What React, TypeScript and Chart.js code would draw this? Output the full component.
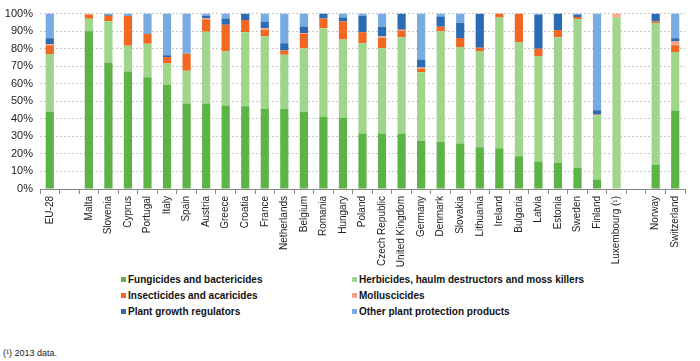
import React, { useEffect, useRef } from "react";
import { Chart, registerables } from "chart.js";

Chart.register(...registerables);

const categories = [
  "EU-28", "", "Malta", "Slovenia", "Cyprus", "Portugal", "Italy", "Spain", "Austria", "Greece",
  "Croatia", "France", "Netherlands", "Belgium", "Romania", "Hungary", "Poland", "Czech Republic",
  "United Kingdom", "Germany", "Denmark", "Slovakia", "Lithuania", "Ireland", "Bulgaria", "Latvia",
  "Estonia", "Sweden", "Finland", "Luxembourg (\u00b9)", " ", "Norway", "Switzerland",
];

const fungicides = [44, null, 90, 72, 67, 63.7, 59.4, 48.7, 48.7, 47.6, 47.2, 45.7, 45.7, 44, 41, 40.6, 31.6, 31.6, 31.6, 27.5, 27, 26, 23.8, 23.2, 18.7, 15.7, 14.8, 12, 5.4, 0, null, 14, 44.8];
const herbicides = [33, null, 7, 23.6, 14.7, 19.1, 12.1, 18.7, 41, 30.9, 42.1, 41.4, 30.9, 36.3, 50.6, 44.6, 51.5, 48.7, 54.9, 39, 62.9, 54.9, 54.9, 74.6, 65, 60.1, 71.7, 84.8, 36.7, 97.8, null, 80.6, 33.3];
const insecticides = [5, null, 2.4, 3.2, 17, 5.6, 3.8, 9.7, 7.1, 15.1, 7.1, 3.5, 2.4, 8.1, 5.6, 10.3, 6.2, 5.8, 3.8, 2.2, 2.6, 5.2, 1.8, 2.2, 16.3, 4.2, 4.1, 1.3, 0.4, 0, null, 0.9, 3.8];
const molluscicides = [0.5, null, 0.6, 0, 0, 0, 0, 0, 0.5, 0, 0, 1, 0, 0.5, 0, 0, 0, 1, 0.5, 0.5, 0, 0, 0, 0, 0, 0, 0, 0, 0, 2.2, null, 0, 2.2];
const growthRegulators = [3.5, null, 0, 0.7, 0, 0, 0.9, 0, 1.4, 3.6, 3.6, 3.7, 4.1, 3.8, 2.8, 2.3, 9.4, 5.4, 9.2, 4.6, 5.8, 8.5, 19.5, 0, 0, 19.3, 9.4, 1.2, 2.4, 0, null, 4.5, 1.9];
const otherProducts = [14, null, 0, 0.5, 1.3, 11.6, 23.8, 22.9, 1.3, 2.8, 0, 4.7, 16.9, 7.3, 0, 2.2, 1.3, 7.5, 0, 26.2, 1.7, 5.4, 0, 0, 0, 0.7, 0, 0.7, 55.1, 0, null, 0, 14];

const yTicks = [0, 10, 20, 30, 40, 50, 60, 70, 80, 90, 100];

const seriesNames = [
  "Fungicides and bactericides",
  "Herbicides, haulm destructors and moss killers",
  "Insecticides and acaricides",
  "Molluscicides",
  "Plant growth regulators",
  "Other plant protection products",
];
const seriesColors = ["#5cb346", "#a0d68c", "#f26722", "#f7a487", "#2b6bb3", "#77abe1"];
const seriesData = [fungicides, herbicides, insecticides, molluscicides, growthRegulators, otherProducts];

const FONT = "'Liberation Sans', Arial, sans-serif";
const CANVAS_H = 268;

export default function App() {
  const ref = useRef<HTMLCanvasElement | null>(null);

  useEffect(() => {
    if (!ref.current) return;
    const chart = new Chart(ref.current, {
      type: "bar",
      data: {
        labels: categories,
        datasets: seriesNames.map((name, i) => ({
          label: name,
          data: seriesData[i],
          backgroundColor: seriesColors[i],
          borderWidth: 0,
          categoryPercentage: 1,
          barPercentage: 0.42,
        })),
      },
      options: {
        animation: false,
        responsive: false,
        maintainAspectRatio: false,
        layout: { padding: { top: 11, right: 15, left: 0, bottom: 0 } },
        plugins: {
          legend: { display: false },
          tooltip: { enabled: false },
        },
        scales: {
          x: {
            stacked: true,
            offset: true,
            grid: {
              display: true,
              drawOnChartArea: false,
              offset: true,
              tickLength: 5,
              color: "#888888",
            },
            border: { display: true, color: "#888888" },
            ticks: {
              autoSkip: false,
              maxRotation: 90,
              minRotation: 90,
              color: "#222222",
              font: { family: FONT, size: 10 },
              padding: 2,
            },
            afterFit: (scale: any) => {
              scale.height = CANVAS_H - 189;
            },
          },
          y: {
            stacked: true,
            min: 0,
            max: 100,
            afterBuildTicks: (scale: any) => {
              scale.ticks = yTicks.map((v) => ({ value: v }));
            },
            grid: {
              color: "#c8c8c8",
              drawTicks: false,
            },
            border: { display: false, dash: [2, 2] },
            ticks: {
              color: "#222222",
              font: { family: FONT, size: 11 },
              padding: 7,
              callback: (v: any) => v + "%",
            },
            afterFit: (scale: any) => {
              scale.width = 40;
            },
          },
        },
      },
    });
    return () => chart.destroy();
  }, []);

  const legendItem = (i: number, left: number, top: number) => (
    <div
      key={i}
      style={{
        position: "absolute",
        left,
        top,
        display: "flex",
        alignItems: "center",
        fontFamily: FONT,
        fontWeight: "bold",
        fontSize: 10,
        color: "#111",
        whiteSpace: "nowrap",
        lineHeight: "13px",
      }}
    >
      <span
        style={{
          display: "inline-block",
          width: 5,
          height: 5,
          background: seriesColors[i],
          marginRight: 2,
        }}
      />
      {seriesNames[i]}
    </div>
  );

  return (
    <div
      style={{
        position: "absolute",
        left: 0,
        top: 0,
        width: 700,
        height: 361,
        background: "#ffffff",
        overflow: "hidden",
      }}
    >
      <canvas ref={ref} width={700} height={CANVAS_H} style={{ position: "absolute", left: 0, top: 0 }} />
      {legendItem(0, 121, 273)}
      {legendItem(1, 352, 273)}
      {legendItem(2, 121, 289)}
      {legendItem(3, 352, 289)}
      {legendItem(4, 121, 305)}
      {legendItem(5, 352, 305)}
      <div
        style={{
          position: "absolute",
          left: 3,
          top: 348,
          fontFamily: FONT,
          fontSize: 9,
          color: "#222",
          whiteSpace: "nowrap",
        }}
      >
        ({"\u00b9"}) 2013 data.
      </div>
    </div>
  );
}
